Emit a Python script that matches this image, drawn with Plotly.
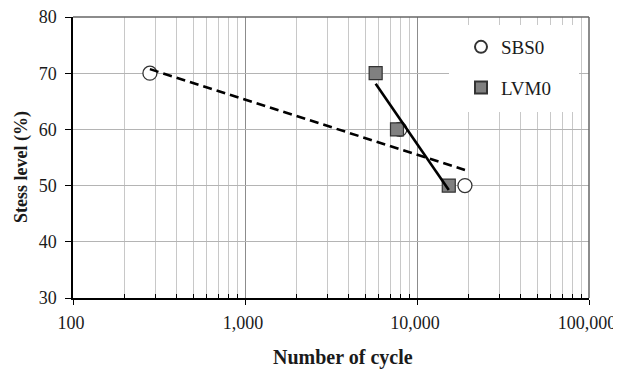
import numpy as np
import plotly.graph_objects as go

# ---- data ----
cycles_sbs0 = [280, 7950, 19000]
stress_sbs0 = [70, 60, 50]
cycles_lvm0 = [5750, 7650, 15300]
stress_lvm0 = [70, 60, 50]

x_tick_vals = [100, 1000, 10000, 100000]
x_tick_text = ["100", "1,000", "10,000", "100,000"]
x_minor_vals = [m * 10 ** d for d in (2, 3, 4) for m in range(2, 10)]
y_tick_vals = [30, 40, 50, 60, 70, 80]

FONT = "Liberation Serif"
TXT = "#1a1a1a"

# page body has an 8px default margin; figure is sized to fill the rest
W, H = 613, 361
L, T, PW, PH = 65, 9, 516, 281


def log_trend(xs, ys):
    b, a = np.polyfit(np.log(xs), ys, 1)
    xe = np.array([min(xs), max(xs)])
    return xe, a + b * np.log(xe)


def px(xp):
    return (xp - 8 - L) / PW


def py(yp):
    return 1 - (yp - 8 - T) / PH


fig = go.Figure()
fig.add_trace(go.Scatter(
    x=cycles_sbs0, y=stress_sbs0, mode="markers", name="SBS0",
    legendgroup="a",
    marker=dict(symbol="circle", size=14, color="white",
                line=dict(color="#333333", width=1.3)),
))
fig.add_trace(go.Scatter(
    x=cycles_lvm0, y=stress_lvm0, mode="markers", name="LVM0",
    legendgroup="b",
    marker=dict(symbol="square", size=13, color="#808080",
                line=dict(color="#333333", width=1.2)),
))
tx, ty = log_trend(cycles_sbs0, stress_sbs0)
fig.add_trace(go.Scatter(x=tx, y=ty, mode="lines", showlegend=False,
                         line=dict(color="black", width=2.6, dash="9px,5px")))
tx, ty = log_trend(cycles_lvm0, stress_lvm0)
fig.add_trace(go.Scatter(x=tx, y=ty, mode="lines", showlegend=False,
                         line=dict(color="black", width=2.6)))

fig.update_xaxes(
    type="log", range=[2, 5], automargin=False,
    tickmode="array", tickvals=x_tick_vals, ticktext=x_tick_text,
    ticks="outside", ticklen=5, tickcolor="black", tickwidth=1.3,
    ticklabelstandoff=3, ticklabeloverflow="allow", ticklabelshift=-2,
    showgrid=True, gridcolor="#8c8c8c", gridwidth=1,
    showline=True, linecolor="black", linewidth=1.5,
    zeroline=False,
    tickfont=dict(family=FONT, size=18, color=TXT),
    minor=dict(tickmode="array", tickvals=x_minor_vals, ticks="inside",
               ticklen=4, tickcolor="black", tickwidth=1,
               showgrid=True, gridcolor="#c8c8c8", gridwidth=1),
)
fig.update_yaxes(
    range=[30, 80], automargin=False,
    tickmode="array", tickvals=y_tick_vals,
    ticks="outside", ticklen=6, tickcolor="black", tickwidth=1.3,
    ticklabelstandoff=5, ticklabeloverflow="allow",
    showgrid=True, gridcolor="#b4b4b4", gridwidth=1,
    showline=True, linecolor="black", linewidth=1.5,
    zeroline=False,
    tickfont=dict(family=FONT, size=18, color=TXT),
)

# legend background box (covers the grid like the original)
fig.add_shape(type="rect", xref="paper", yref="paper",
              x0=px(449), x1=px(579), y0=py(112), y1=py(25),
              fillcolor="white", line=dict(width=0), layer="above")
# top / right frame
fig.add_shape(type="line", xref="paper", yref="paper", x0=0, x1=1, y0=1, y1=1,
              line=dict(color="#666666", width=1.5), layer="above")
fig.add_shape(type="line", xref="paper", yref="paper", x0=1, x1=1, y0=0, y1=1,
              line=dict(color="#666666", width=1.5), layer="above")

fig.add_annotation(text="<b>Number of cycle</b>", xref="paper", yref="paper",
                   x=px(343), y=py(357), xanchor="center", yanchor="middle",
                   showarrow=False, font=dict(family=FONT, size=20, color=TXT))
fig.add_annotation(text="<b>Stess level (%)</b>", xref="paper", yref="paper",
                   x=px(22), y=py(167), xanchor="center", yanchor="middle",
                   textangle=-90,
                   showarrow=False, font=dict(family=FONT, size=18, color=TXT))

fig.update_layout(
    width=W, height=H,
    margin=dict(l=L, r=W - L - PW, t=T, b=H - T - PH, autoexpand=False),
    paper_bgcolor="white", plot_bgcolor="white",
    showlegend=True,
    legend=dict(x=px(461), y=py(28),
                xanchor="left", yanchor="top",
                bgcolor="rgba(0,0,0,0)", borderwidth=0,
                itemsizing="constant",
                traceorder="grouped", tracegroupgap=13,
                font=dict(family=FONT, size=19, color=TXT)),
)

fig.write_html("out.html")
